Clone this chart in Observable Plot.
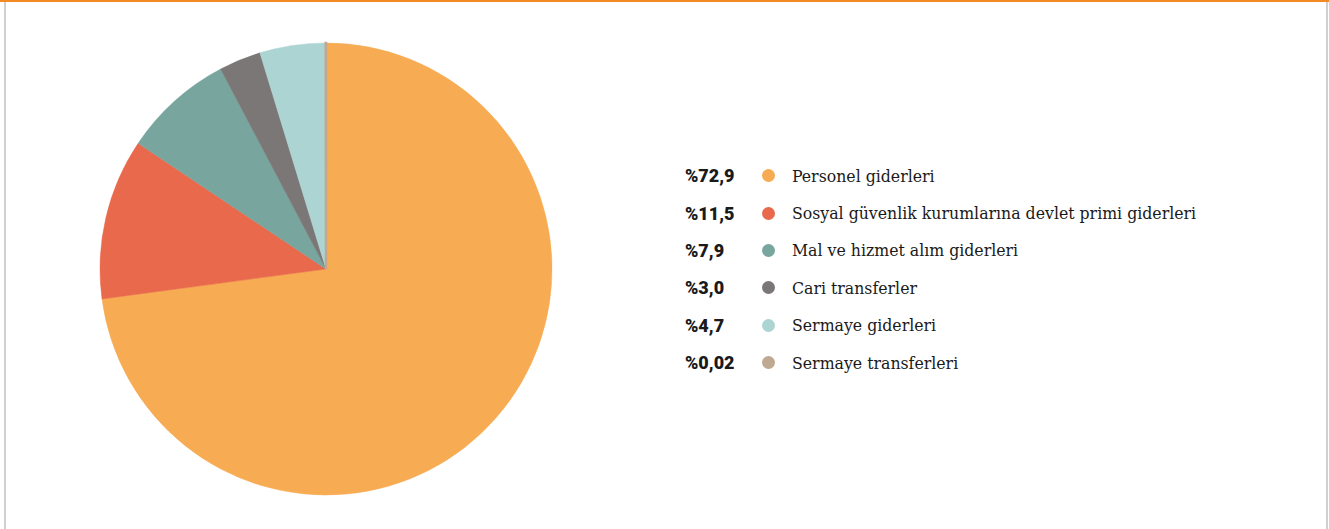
<!DOCTYPE html>
<html>
<head>
<meta charset="utf-8">
<script src="https://cdn.jsdelivr.net/npm/d3@7"></script>
<script src="https://cdn.jsdelivr.net/npm/@observablehq/plot@0.6"></script>
<style>
  html, body { margin: 0; padding: 0; background: #fff; }
  #frame { position: relative; width: 1329px; height: 529px; overflow: hidden; }
  .bt { position: absolute; left: 0; top: 0; width: 1329px; height: 2px; background: #f28b26; }
  .bl { position: absolute; left: 4px; top: 2px; width: 2px; height: 527px; background: #d0d0d0; }
  .br { position: absolute; left: 1326px; top: 2px; width: 2px; height: 527px; background: #d0d0d0; }
  #chart { position: absolute; left: 0; top: 0; }
  #legend { position: absolute; left: 685px; top: 157px; }
  .row { display: flex; align-items: center; height: 37.4px; }
  .pct { width: 77px; font-family: Roboto, "Liberation Sans", sans-serif; font-weight: 900; font-size: 18px; color: #1a1a1a; }
  .dot { width: 13px; height: 13px; border-radius: 50%; margin-right: 17px; }
  .lab { font-family: "DejaVu Serif Condensed", "DejaVu Serif", serif; font-size: 17.5px; color: #1a1a1a; white-space: nowrap; }
</style>
</head>
<body>
<div id="frame">
  <div class="bt"></div><div class="bl"></div><div class="br"></div>
  <div id="chart"></div>
  <div id="legend"></div>
</div>
<script>
const categories = [
  "Personel giderleri",
  "Sosyal güvenlik kurumlarına devlet primi giderleri",
  "Mal ve hizmet alım giderleri",
  "Cari transferler",
  "Sermaye giderleri",
  "Sermaye transferleri"
];
const values = [72.9, 11.5, 7.9, 3.0, 4.7, 0.02];
const valueLabels = ["%72,9", "%11,5", "%7,9", "%3,0", "%4,7", "%0,02"];
const colors = ["#f7ab52", "#e8694b", "#78a59e", "#7b7776", "#acd4d3", "#bfa992"];

const data = categories.map((c, i) => ({category: c, value: values[i], label: valueLabels[i], color: colors[i]}));

const pie = d3.pie().sort(null).value(d => d.value)(data);

function pieMark(index, scales, values, dimensions, context) {
  const cx = scales.x(0), cy = scales.y(0);
  const r = scales.x(1) - scales.x(0);
  const arc = d3.arc().innerRadius(0).outerRadius(r);
  const g = d3.create("svg:g").attr("transform", `translate(${cx},${cy})`);
  g.selectAll("path")
    .data(pie)
    .join("path")
    .attr("d", arc)
    .attr("fill", d => d.data.color)
    .attr("stroke", d => d.data.color)
    .attr("stroke-width", d => d.data.value < 0.1 ? 2.5 : 0.5);
  return g.node();
}

const plot = Plot.plot({
  width: 652,
  height: 529,
  marginLeft: 100,
  marginRight: 100,
  marginTop: 43,
  marginBottom: 34,
  x: {domain: [-1, 1], axis: null},
  y: {domain: [-1, 1], axis: null},
  marks: [
    Plot.dot([[-1, -1], [1, 1]], {x: d => d[0], y: d => d[1], r: 1, fillOpacity: 0, strokeOpacity: 0}),
    pieMark
  ]
});
document.getElementById("chart").appendChild(plot);

const legend = d3.select("#legend");
const rows = legend.selectAll(".row").data(data).join("div").attr("class", "row");
rows.append("div").attr("class", "pct").text(d => d.label);
rows.append("div").attr("class", "dot").style("background", d => d.color);
rows.append("div").attr("class", "lab").text(d => d.category);
</script>
</body>
</html>
